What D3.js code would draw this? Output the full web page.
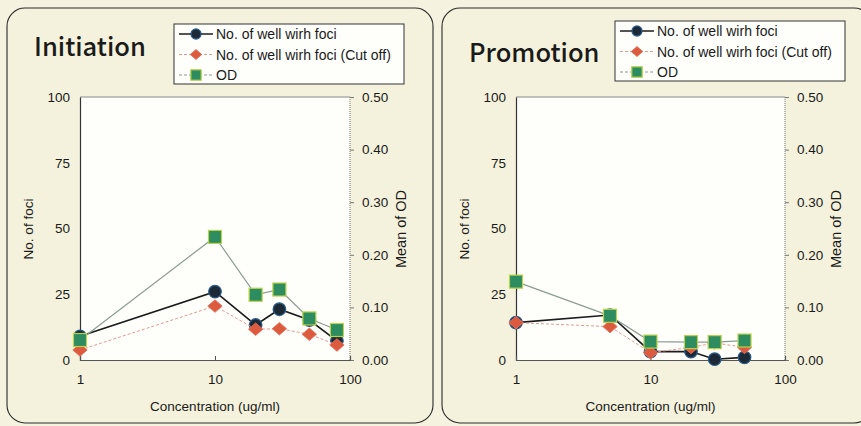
<!DOCTYPE html>
<html>
<head>
<meta charset="utf-8">
<script src="https://cdn.jsdelivr.net/npm/d3@7/dist/d3.min.js"></script>
<style>
  html, body { margin: 0; padding: 0; background: #f5f3e0; }
  svg { display: block; }
  text { font-family: "Liberation Sans", Arial, sans-serif; fill: #1a1a1a; }
</style>
</head>
<body>
<svg id="chart" width="861" height="426"></svg>
<script>
// Initiation assay
const initConc = [1, 10, 20, 30, 50, 80];
const initWells = [9, 26, 13.3, 19.3, 15.2, 7.3];
const initWellsCut = [3.8, 20.5, 11.7, 11.9, 9.8, 5.7];
const initOD = [0.038, 0.234, 0.124, 0.134, 0.079, 0.057];

// Promotion assay
const promConc = [1, 5, 10, 20, 30, 50];
const promWells = [14.2, 17.1, 3.2, 3.2, 0.3, 1.0];
const promWellsCut = [14.2, 12.7, 2.8, 4.8, 6.5, 4.8];
const promOD = [0.149, 0.084, 0.035, 0.034, 0.034, 0.037];

const leftTicks = [0, 25, 50, 75, 100];
const rightTicks = [0, 0.1, 0.2, 0.3, 0.4, 0.5];
const xTicks = [1, 10, 100];
const seriesNames = ["No. of well wirh foci", "No. of well wirh foci (Cut off)", "OD"];

const svg = d3.select("#chart");

const styles = [
  { line: "#1b1b1b", width: 1.6, dash: null, marker: "circle", fill: "#1c2a38", stroke: "#2d5c8a" },
  { line: "#e59a90", width: 1, dash: "3,2", marker: "diamond", fill: "#dc5a3e", stroke: "#e8705a" },
  { line: "#8d9c92", width: 1.2, dash: null, marker: "square", fill: "#2d8c60", stroke: "#b9d24a" }
];

function drawMarker(g, kind, x, y, st, k) {
  if (kind === "circle") {
    g.append("circle").attr("cx", x).attr("cy", y).attr("r", 6.3 * k)
      .attr("fill", st.fill).attr("stroke", st.stroke).attr("stroke-width", 1.2);
  } else if (kind === "diamond") {
    g.append("path").attr("d", d3.symbol(d3.symbolDiamond2, 100 * k * k)())
      .attr("transform", `translate(${x},${y}) scale(1.15,1)`)
      .attr("fill", st.fill).attr("stroke", st.stroke).attr("stroke-width", 0.8);
  } else {
    const h = 6.5 * k;
    g.append("rect").attr("x", x - h).attr("y", y - h).attr("width", 2 * h).attr("height", 2 * h)
      .attr("fill", st.fill).attr("stroke", st.stroke).attr("stroke-width", 1.2);
  }
}

function panel(cfg) {
  const g = svg.append("g");
  // rounded frame
  g.append("rect").attr("x", cfg.frame[0]).attr("y", cfg.frame[1])
    .attr("width", cfg.frame[2]).attr("height", cfg.frame[3])
    .attr("rx", 18).attr("ry", 18)
    .attr("fill", "#f4f2dc").attr("stroke", "#2a2a2a").attr("stroke-width", 1.1);

  const x = d3.scaleLog().domain([1, 100]).range([cfg.left, cfg.right]);
  const yL = d3.scaleLinear().domain([0, 100]).range([360, 97]);
  const yR = d3.scaleLinear().domain([0, 0.5]).range([360, 97]);

  // plot area
  g.append("rect").attr("x", cfg.left).attr("y", 97)
    .attr("width", cfg.right - cfg.left).attr("height", 263)
    .attr("fill", "#fefefb");
  g.append("line").attr("x1", cfg.left).attr("x2", cfg.right).attr("y1", 97).attr("y2", 97)
    .attr("stroke", "#8a8a8a").attr("stroke-width", 1);
  g.append("line").attr("x1", cfg.right).attr("x2", cfg.right).attr("y1", 97).attr("y2", 360)
    .attr("stroke", "#777").attr("stroke-width", 1).attr("stroke-dasharray", "1,1");

  // axes
  const axL = g.append("g").attr("transform", `translate(${cfg.left},0)`)
    .call(d3.axisLeft(yL).tickValues(leftTicks).tickSize(0).tickPadding(10).tickFormat(d3.format("d")));
  axL.select(".domain").attr("stroke", "#333").attr("stroke-width", 1.2);
  axL.selectAll("text").attr("font-size", 13.5);

  const axR = g.append("g").attr("transform", `translate(${cfg.right},0)`)
    .call(d3.axisRight(yR).tickValues(rightTicks).tickSize(4).tickPadding(8).tickFormat(d3.format(".2f")));
  axR.select(".domain").remove();
  axR.selectAll("line").attr("stroke", "#777");
  axR.selectAll("text").attr("font-size", 13.5);

  const axB = g.append("g").attr("transform", `translate(0,360)`)
    .call(d3.axisBottom(x).tickValues(xTicks).tickSize(-4).tickPadding(14).tickFormat(d3.format("d")));
  axB.select(".domain").attr("stroke", "#555").attr("stroke-width", 1.2);
  axB.selectAll("line").attr("stroke", "#555");
  axB.selectAll("text").attr("font-size", 13.5);

  // axis titles
  g.append("text").attr("x", (cfg.left + cfg.right) / 2).attr("y", 411)
    .attr("text-anchor", "middle").attr("font-size", 13.5).text("Concentration (ug/ml)");
  g.append("text").attr("transform", `translate(${cfg.left - 47},229) rotate(-90)`)
    .attr("text-anchor", "middle").attr("font-size", 13.5).text("No. of foci");
  g.append("text").attr("transform", `translate(${cfg.right + 56},229) rotate(-90)`)
    .attr("text-anchor", "middle").attr("font-size", 14.5).text("Mean of OD");

  // title
  g.append("text").attr("x", cfg.titleX).attr("y", cfg.titleY)
    .style("font-family", "'Noto Sans CJK JP', 'Noto Sans', sans-serif")
    .attr("font-size", 25.5).attr("font-weight", 500).text(cfg.title);

  // series
  const sets = [
    cfg.wells.map((v, i) => [x(cfg.conc[i]), yL(v)]),
    cfg.cut.map((v, i) => [x(cfg.conc[i]), yL(v)]),
    cfg.od.map((v, i) => [x(cfg.conc[i]), yR(v)])
  ];
  const line = d3.line();
  sets.forEach((pts, s) => {
    const st = styles[s];
    g.append("path").attr("d", line(pts)).attr("fill", "none")
      .attr("stroke", st.line).attr("stroke-width", st.width)
      .attr("stroke-dasharray", st.dash);
    pts.forEach(p => drawMarker(g, st.marker, p[0], p[1], st, 1));
  });

  // legend
  const lg = g.append("g");
  lg.append("rect").attr("x", cfg.legend[0]).attr("y", cfg.legend[1])
    .attr("width", cfg.legend[2]).attr("height", 60)
    .attr("fill", "#fefefb").attr("stroke", "#333").attr("stroke-width", 1);
  seriesNames.forEach((name, s) => {
    const st = styles[s];
    const ly = cfg.legend[1] + 10 + s * 20.5;
    const lx = cfg.legend[0] + 5;
    lg.append("line").attr("x1", lx).attr("x2", lx + 34).attr("y1", ly).attr("y2", ly)
      .attr("stroke", st.line).attr("stroke-width", st.width)
      .attr("stroke-dasharray", s === 0 ? null : "3,2");
    drawMarker(lg, st.marker, lx + 17, ly, st, 0.8);
    lg.append("text").attr("x", lx + 37).attr("y", ly + 5)
      .attr("font-size", 14).text(name);
  });
}

panel({
  frame: [7, 8, 426, 415], left: 80, right: 350,
  title: "Initiation", titleX: 34, titleY: 56,
  legend: [174, 24, 230],
  conc: initConc, wells: initWells, cut: initWellsCut, od: initOD
});
panel({
  frame: [442, 8, 430, 415], left: 516, right: 785,
  title: "Promotion", titleX: 469, titleY: 62,
  legend: [615, 21, 230],
  conc: promConc, wells: promWells, cut: promWellsCut, od: promOD
});
</script>
</body>
</html>
